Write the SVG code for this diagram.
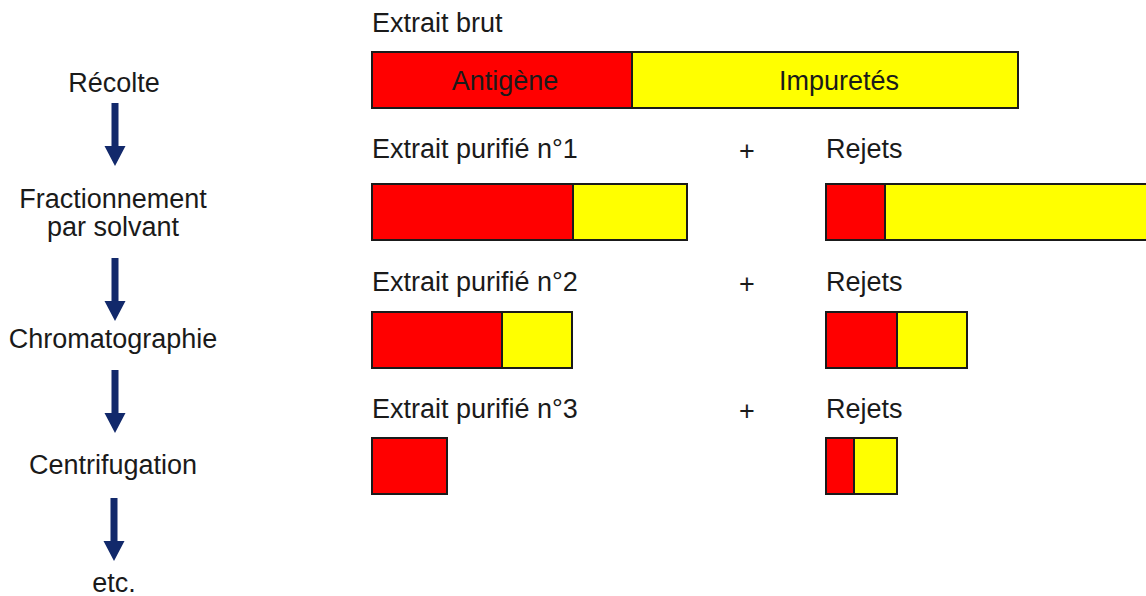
<svg xmlns="http://www.w3.org/2000/svg" width="1146" height="596" viewBox="0 0 1146 596">
<style>
text{font-family:"Liberation Sans",Arial,sans-serif;font-size:27px;fill:#1a1a1a}
.c{text-anchor:middle}
.r{fill:#ff0000;stroke:#1a1a1a;stroke-width:2}
.y{fill:#ffff00;stroke:#1a1a1a;stroke-width:2}
.a{fill:#12296b}
</style>
<defs>
<path id="arr" d="M-3.5,0 H3.5 V43 H10.5 L0,63 L-10.5,43 H-3.5 Z"/>
</defs>
<rect width="1146" height="596" fill="#fff"/>
<g id="steps">
<text class="c" x="114" y="92">Récolte</text>
<text class="c" x="113" y="208">Fractionnement</text>
<text class="c" x="113" y="236">par solvant</text>
<text class="c" x="113" y="348">Chromatographie</text>
<text class="c" x="113" y="474">Centrifugation</text>
<text class="c" x="114" y="592">etc.</text>
</g>
<g id="connectors">
<use href="#arr" class="a" x="115" y="103"/>
<use href="#arr" class="a" x="115" y="258"/>
<use href="#arr" class="a" x="115" y="370"/>
<use href="#arr" class="a" x="114" y="498"/>
</g>
<g id="brut">
<text x="372" y="32">Extrait brut</text>
<rect class="r" x="372" y="52" width="260" height="56"/>
<rect class="y" x="632" y="52" width="386" height="56"/>
<text class="c" x="505" y="90">Antigène</text>
<text class="c" x="839" y="90">Impuretés</text>
</g>
<g id="purifie1">
<text x="372" y="158">Extrait purifié n°1</text>
<rect class="r" x="372" y="184" width="201" height="56"/>
<rect class="y" x="573" y="184" width="114" height="56"/>
</g>
<g id="rejets1">
<text class="c" x="747" y="160">+</text>
<text x="826" y="158">Rejets</text>
<rect class="r" x="826" y="184" width="59" height="56"/>
<rect class="y" x="885" y="184" width="270" height="56"/>
</g>
<g id="purifie2">
<text x="372" y="291">Extrait purifié n°2</text>
<rect class="r" x="372" y="312" width="130" height="56"/>
<rect class="y" x="502" y="312" width="70" height="56"/>
</g>
<g id="rejets2">
<text class="c" x="747" y="293">+</text>
<text x="826" y="291">Rejets</text>
<rect class="r" x="826" y="312" width="71" height="56"/>
<rect class="y" x="897" y="312" width="70" height="56"/>
</g>
<g id="purifie3">
<text x="372" y="418">Extrait purifié n°3</text>
<rect class="r" x="372" y="438" width="75" height="56"/>
</g>
<g id="rejets3">
<text class="c" x="747" y="420">+</text>
<text x="826" y="418">Rejets</text>
<rect class="r" x="826" y="438" width="28" height="56"/>
<rect class="y" x="854" y="438" width="43" height="56"/>
</g>
</svg>
